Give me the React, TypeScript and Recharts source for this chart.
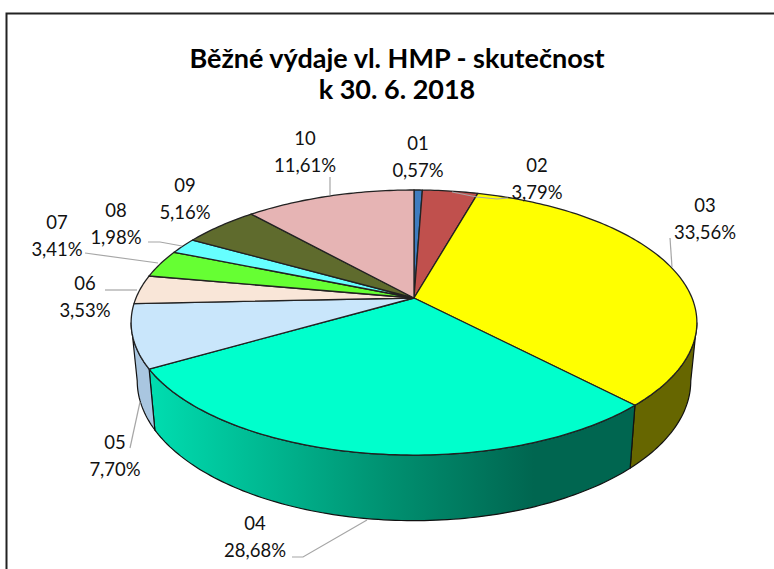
import { Pie, PieChart } from "recharts"

const categories = ["01", "02", "03", "04", "05", "06", "07", "08", "09", "10"]
const shares = [0.57, 3.79, 33.56, 28.68, 7.7, 3.53, 3.41, 1.98, 5.16, 11.61]
const shareLabels = ["0,57%", "3,79%", "33,56%", "28,68%", "7,70%", "3,53%", "3,41%", "1,98%", "5,16%", "11,61%"]
const titleLines = ["Běžné výdaje vl. HMP - skutečnost", "k 30. 6. 2018"]

const topColors = ["#3F7CBF", "#C0504D", "#FFFF00", "#00FFCC", "#C9E6FB", "#F9E6D8", "#66FF33", "#66FFFF", "#5F6B2D", "#E6B4B4"]
const wallColors = ["#2A5580", "#803533", "#666600", "url(#wall04)", "#A9C6E0", "#C7B8AD", "#47B324", "#47B3B3", "#434B20", "#B89090"]

// label block centres, the chart places these by hand
const labelX = [418, 537, 705, 255, 115, 85, 57, 116, 185, 305]
const labelY = [143, 165, 205, 523, 442, 283, 222, 210, 185, 138]
const leaders = [
  "",
  "452,192 477,197 497,199 508,198",
  "670,238 672,267",
  "367,520 303,557 292,557",
  "140,402 130,448",
  "105,290 137,290",
  "85,253 158,263",
  "148,242 160,242 182,246",
  "",
  "330,177 330,195",
]

const data = categories.map((name, i) => ({ name, value: shares[i], fill: topColors[i], wall: wallColors[i] }))

// the reference is a perspective 3D pie, so every angle goes through this projection
const TILT = 0.185
const SQUASH = 128 / 278
const BOTTOM_SCALE = 272 / 278
const BOTTOM_SQUASH = 135 / 278
const BOTTOM_DROP = 57
const EDGE = (Math.acos(-TILT) * 180) / Math.PI

function project(deg: number, cx: number, cy: number, r: number, bottom: boolean) {
  const a = (deg * Math.PI) / 180
  const u = Math.sin(a)
  const v = -Math.cos(a)
  const w = 1 - TILT * v
  const rx = bottom ? r * BOTTOM_SCALE : r
  const ry = r * (bottom ? BOTTOM_SQUASH : SQUASH)
  return [cx + (rx * u) / w, cy + (bottom ? BOTTOM_DROP : 0) + (ry * v) / w]
}

function arc(from: number, to: number, cx: number, cy: number, r: number, bottom = false) {
  const steps = Math.max(2, Math.ceil(Math.abs(to - from)))
  const pts: string[] = []
  for (let i = 0; i <= steps; i++) {
    const [x, y] = project(from + ((to - from) * i) / steps, cx, cy, r, bottom)
    pts.push(`${x.toFixed(2)} ${y.toFixed(2)}`)
  }
  return pts
}

function PieSlice(props: any) {
  const { cx, cy, outerRadius, startAngle, endAngle, fill, wall } = props
  // recharts angles run counter-clockwise from 3 o'clock, these run clockwise from 12
  const from = 90 - startAngle
  const to = 90 - endAngle
  const wallFrom = Math.max(from, EDGE)
  const wallTo = Math.min(to, 360 - EDGE)
  const top = arc(from, to, cx, cy, outerRadius)
  return (
    <g>
      {wallFrom < wallTo && (
        <path
          d={`M${arc(wallFrom, wallTo, cx, cy, outerRadius).join("L")}L${arc(wallTo, wallFrom, cx, cy, outerRadius, true).join("L")}Z`}
          fill={wall}
          stroke="#111"
          strokeWidth={1.2}
        />
      )}
      <path d={`M${cx} ${cy}L${top.join("L")}Z`} fill={fill} stroke="#222" strokeWidth={1.3} strokeLinejoin="round" />
    </g>
  )
}

function SliceLabel(props: any) {
  const i = props.index
  return (
    <g>
      {leaders[i] && <polyline points={leaders[i]} fill="none" stroke="#A6A6A6" strokeWidth={1.2} />}
      <text x={labelX[i]} y={labelY[i]} textAnchor="middle" dominantBaseline="central" fontSize={18.5} fill="#111">
        {categories[i]}
      </text>
      <text x={labelX[i]} y={labelY[i] + 27} textAnchor="middle" dominantBaseline="central" fontSize={18.5} fill="#111">
        {shareLabels[i]}
      </text>
    </g>
  )
}

export default function App() {
  return (
    <div style={{ position: "absolute", left: 0, top: 0, width: 774, height: 569, background: "#fff", fontFamily: "Lato" }}>
      <PieChart width={774} height={569} margin={{ top: 0, right: 0, bottom: 0, left: 0 }}>
        <defs>
          <linearGradient id="wall04" gradientUnits="userSpaceOnUse" x1="150" y1="0" x2="630" y2="0">
            <stop offset="0" stopColor="#00DDB0" />
            <stop offset="0.5" stopColor="#009070" />
            <stop offset="0.8" stopColor="#006650" />
            <stop offset="1" stopColor="#006650" />
          </linearGradient>
        </defs>
        <path d="M6.5 569V13.5H774" fill="none" stroke="#222" strokeWidth={2} />
        {titleLines.map((line, i) => (
          <text key={line} x={397} y={57 + i * 31} textAnchor="middle" dominantBaseline="central" fontSize={27} fontWeight={700} fill="#000">
            {line}
          </text>
        ))}
        <Pie
          data={data}
          dataKey="value"
          nameKey="name"
          cx={414}
          cy={298}
          innerRadius={0}
          outerRadius={278}
          startAngle={90}
          endAngle={-270}
          paddingAngle={0}
          isAnimationActive={false}
          shape={PieSlice}
          inactiveShape={PieSlice}
          activeShape={PieSlice}
          label={SliceLabel}
          labelLine={false}
        />
      </PieChart>
    </div>
  )
}
